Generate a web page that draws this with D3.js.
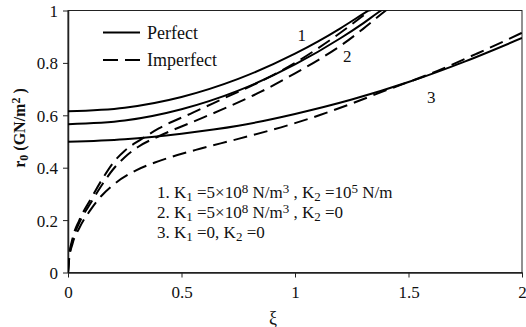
<!DOCTYPE html>
<html><head><meta charset="utf-8">
<script src="https://cdn.jsdelivr.net/npm/d3@7"></script>
<style>body{margin:0;background:#fff}svg text{font-family:"Liberation Serif","Times New Roman",serif;fill:#111}</style>
</head><body><svg id="c" width="526" height="327"></svg>
<script>
// ---- data ----
const xTicks = [0, 0.5, 1, 1.5, 2];
const yTicks = [0, 0.2, 0.4, 0.6, 0.8, 1];
const xTickLabels = ["0", "0.5", "1", "1.5", "2"];
const yTickLabels = ["0", "0.2", "0.4", "0.6", "0.8", "1"];
// perfect (solid)
const perfect1 = [[0,0.615],[0.25,0.629],[0.5,0.67],[0.75,0.739],[1.0,0.835],[1.1,0.881],[1.2,0.932],[1.3,0.987],[1.36,1.02]];
const perfect2 = [[0,0.566],[0.25,0.58],[0.5,0.623],[0.75,0.694],[1.0,0.794],[1.2,0.894],[1.3,0.951],[1.38,1.0],[1.42,1.02]];
const perfect3 = [[0,0.499],[0.25,0.509],[0.5,0.53],[0.75,0.56],[1.0,0.605],[1.25,0.66],[1.5,0.727],[1.75,0.806],[2.0,0.895]];
// imperfect (dashed)
const imperfect1 = [[0,0],[0.005,0.06],[0.02,0.13],[0.05,0.2],[0.1,0.28],[0.15,0.355],[0.2,0.42],[0.25,0.465],[0.325,0.51],[0.4,0.55],[0.55,0.61],[0.7,0.67],[0.85,0.73],[1.0,0.8],[1.1,0.855],[1.2,0.915],[1.3,0.98],[1.36,1.02]];
const imperfect2 = [[0,0],[0.005,0.055],[0.02,0.12],[0.05,0.19],[0.1,0.265],[0.15,0.335],[0.2,0.395],[0.25,0.44],[0.31,0.48],[0.4,0.52],[0.55,0.575],[0.7,0.63],[0.85,0.69],[1.0,0.76],[1.1,0.81],[1.2,0.865],[1.3,0.93],[1.4,1.0],[1.43,1.02]];
const imperfect3 = [[0,0],[0.005,0.05],[0.02,0.11],[0.05,0.17],[0.1,0.24],[0.15,0.295],[0.2,0.335],[0.3,0.39],[0.4,0.425],[0.563,0.468],[0.75,0.51],[1.0,0.57],[1.11,0.601],[1.25,0.645],[1.4,0.695],[1.6,0.76],[1.8,0.835],[2.0,0.915]];
const curveLabels = [{t:"1", x:1.03, y:0.905},{t:"2", x:1.23, y:0.825},{t:"3", x:1.60, y:0.67}];

// ---- layout ----
const L = 68, R = 522, T = 10.5, B = 272.5;
const FONT = '"Liberation Serif", "Times New Roman", serif';
const svg = d3.select("#c");
const x = d3.scaleLinear().domain([0, 2]).range([L, R]);
const y = d3.scaleLinear().domain([0, 1]).range([B, T]);

svg.append("defs").append("clipPath").attr("id","clip")
  .append("rect").attr("x", L).attr("y", T).attr("width", R - L).attr("height", B - T);

// frame
svg.append("rect").attr("x", L).attr("y", T).attr("width", R - L).attr("height", B - T)
  .attr("fill", "none").attr("stroke", "#222").attr("stroke-width", 1);

// axes
const xAxis = d3.axisBottom(x).tickValues(xTicks).tickFormat((d,i)=>xTickLabels[i]).tickSize(5).tickSizeOuter(0);
const yAxis = d3.axisLeft(y).tickValues(yTicks).tickFormat((d,i)=>yTickLabels[i]).tickSize(5).tickSizeOuter(0);
const gx = svg.append("g").attr("transform", `translate(0,${B})`).call(xAxis);
const gy = svg.append("g").attr("transform", `translate(${L},0)`).call(yAxis);
[gx, gy].forEach(g => {
  g.attr("font-family", FONT).attr("font-size", 17);
  g.select(".domain").attr("stroke", "#222").attr("stroke-width", 1.5);
  g.selectAll(".tick line").attr("stroke", "#222");
  g.selectAll(".tick text").attr("fill", "#111");
});
gx.selectAll(".tick text").attr("dy", "1.0em").attr("y", 8);
gy.selectAll(".tick text").attr("x", -10).attr("dy", "0.35em");

// curves
const line = d3.line().x(d => x(d[0])).y(d => y(d[1])).curve(d3.curveMonotoneX);
const plot = svg.append("g").attr("clip-path", "url(#clip)");
[perfect1, perfect2, perfect3].forEach(s => plot.append("path").attr("d", line(s))
  .attr("fill", "none").attr("stroke", "#000").attr("stroke-width", 2));
[imperfect1, imperfect2, imperfect3].forEach(s => plot.append("path").attr("d", line(s))
  .attr("fill", "none").attr("stroke", "#000").attr("stroke-width", 2).attr("stroke-dasharray", "14,7"));

// curve labels
curveLabels.forEach(c => svg.append("text").attr("x", x(c.x)).attr("y", y(c.y))
  .attr("text-anchor", "middle").attr("dy", "0.35em").attr("font-size", 17).text(c.t));

// legend
const lg = svg.append("g");
lg.append("line").attr("x1", 103).attr("x2", 140).attr("y1", 32.5).attr("y2", 32.5).attr("stroke", "#000").attr("stroke-width", 2);
lg.append("line").attr("x1", 103).attr("x2", 140).attr("y1", 60).attr("y2", 60).attr("stroke", "#000").attr("stroke-width", 2).attr("stroke-dasharray", "15,7");
lg.append("text").attr("x", 147).attr("y", 32.5).attr("dy", "0.35em").attr("font-size", 18).text("Perfect");
lg.append("text").attr("x", 147).attr("y", 60).attr("dy", "0.35em").attr("font-size", 18).text("Imperfect");

// annotation block
function addLine(yy, parts) {
  const t = svg.append("text").attr("x", 157).attr("y", yy).attr("font-size", 17);
  parts.forEach(p => {
    const ts = t.append("tspan").text(p[0]);
    if (p[1] === "sub") ts.attr("baseline-shift", "-25%").attr("font-size", 13);
    if (p[1] === "sup") ts.attr("baseline-shift", "40%").attr("font-size", 13);
  });
}
addLine(198, [["1. K"],["1","sub"],[" =5×10"],["8","sup"],[" N/m"],["3","sup"],[" , K"],["2","sub"],[" =10"],["5","sup"],[" N/m"]]);
addLine(218, [["2. K"],["1","sub"],[" =5×10"],["8","sup"],[" N/m"],["3","sup"],[" , K"],["2","sub"],[" =0"]]);
addLine(238, [["3. K"],["1","sub"],[" =0, K"],["2","sub"],[" =0"]]);

// axis titles
const yl = svg.append("text").attr("transform", "translate(25,128) rotate(-90)")
  .attr("text-anchor", "middle").attr("font-size", 16).attr("font-weight", "bold");
yl.append("tspan").text("r");
yl.append("tspan").text("0").attr("baseline-shift", "-25%").attr("font-size", 12);
yl.append("tspan").text(" (GN/m");
yl.append("tspan").text("2").attr("baseline-shift", "40%").attr("font-size", 12);
yl.append("tspan").text(" )");
svg.append("text").attr("x", 273).attr("y", 318).attr("text-anchor", "middle").attr("dy", "0.35em")
  .attr("font-size", 18).text("ξ");
</script></body></html>
